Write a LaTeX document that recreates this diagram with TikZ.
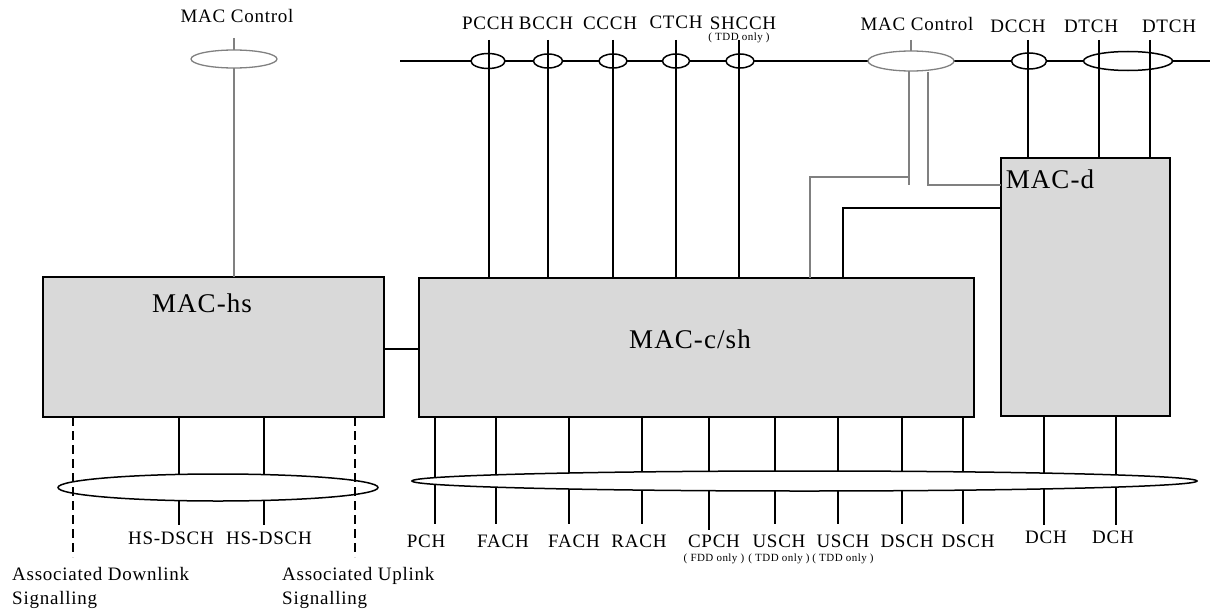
\documentclass[tikz,border=0pt]{standalone}
\usepackage{fontspec}
\setmainfont[LetterSpace=4]{Liberation Serif}
\usetikzlibrary{shapes.geometric}
\definecolor{boxgray}{RGB}{217,217,217}
\definecolor{ctlgray}{RGB}{128,128,128}
\tikzset{
 blk/.style={line width=1.5pt},
 gry/.style={draw=ctlgray, line width=1.3pt},
 dsh/.style={line width=1.5pt, dash pattern=on 9pt off 5pt},
 box/.style={draw, fill=boxgray, line width=1.6pt, inner sep=0pt, outer sep=0pt},
 ell/.style={ellipse, draw, fill=white, line width=1.5pt, inner sep=0pt, outer sep=0pt},
 gell/.style={ell, draw=ctlgray, line width=1.3pt},
 lab/.style={inner sep=0pt, font=\fontsize{19}{22}\selectfont},
 sml/.style={inner sep=0pt, font=\fontsize{11}{13}\selectfont},
 big/.style={inner sep=0pt, font=\fontsize{27}{30}\selectfont, anchor=base},
}
\begin{document}
\begin{tikzpicture}[x=1pt,y=-1pt]
\useasboundingbox (0,0) rectangle (1214,610);

% ---------------- top channel bus ----------------
\coordinate (tl) at (400,61);
\coordinate (tr) at (1210,61);
\draw[blk] (tl) -- (tr);

% boxes
\node[box, minimum width=341pt, minimum height=140pt] (hs) at (213.5,347) {};
\node[box, minimum width=555pt, minimum height=139pt] (csh) at (696.5,347.5) {};
\node[box, minimum width=169pt, minimum height=258pt] (macd) at (1085.5,287) {};

\node[big] (hsT) at (202,312) {MAC-hs};
\node[big] (cshT) at (690,348) {MAC-c/sh};
\node[big] (macdT) at (1050,188) {MAC-d};

% top ellipses
\node[ell, minimum width=34pt, minimum height=15pt] (ePCCH) at (488,61) {};
\node[ell, minimum width=29pt, minimum height=14pt] (eBCCH) at (548,61) {};
\node[ell, minimum width=28pt, minimum height=14pt] (eCCCH) at (613,61) {};
\node[ell, minimum width=27pt, minimum height=14pt] (eCTCH) at (676,61) {};
\node[ell, minimum width=28pt, minimum height=14pt] (eSHCCH) at (740,61) {};
\node[ell, minimum width=35pt, minimum height=16pt] (eDCCH) at (1029,61) {};
\node[ell, minimum width=89pt, minimum height=19pt] (eDTCH) at (1128,61) {};
\node[gell, minimum width=86pt, minimum height=20pt] (eMC) at (911,61) {};
\node[gell, minimum width=86pt, minimum height=18pt] (eML) at (234,59) {};

% top vertical channel lines
\coordinate (tPCCH) at (489,40);
\coordinate (tBCCH) at (548,40);
\coordinate (tCCCH) at (613,40);
\coordinate (tCTCH) at (676,40);
\coordinate (tSHCCH) at (739,40);
\coordinate (tDCCH) at (1028,40);
\coordinate (tDTCHa) at (1099,40);
\coordinate (tDTCHb) at (1150,40);
\foreach \c in {tPCCH,tBCCH,tCCCH,tCTCH,tSHCCH}
  \draw[blk] (\c) -- (\c |- csh.north);
\foreach \c in {tDCCH,tDTCHa,tDTCHb}
  \draw[blk] (\c) -- (\c |- macd.north);

% MAC control (right)
\coordinate (tMC) at (911,40);
\draw[gry] (tMC) -- (eMC.north);
\coordinate (g1) at (909,185);
\coordinate (g2) at (810,177);
\coordinate (g3) at (928,185);
\draw[gry] (eMC.south -| g1) -- (g1);
\draw[gry] (g2 -| g1) -- (g2) -- (g2 |- csh.north);
\draw[gry] ([yshift=-1pt]eMC.south -| g3) -- (g3) -- (g3 -| macd.west);
\coordinate (b1) at (843,208);
\draw[blk] (b1 -| macd.west) -- (b1) -- (b1 |- csh.north);

% MAC control (left)
\coordinate (tML) at (234,38);
\draw[gry] (tML) -- (eML.north);
\draw[gry] (eML.south) -- (eML.south |- hs.north);

% hs -- c/sh link
\coordinate (c1) at (400,349);
\draw[blk] (c1 -| hs.east) -- (c1 -| csh.west);

% ---------------- lower left ----------------
\coordinate (hA) at (179,525);
\coordinate (hB) at (264,525);
\draw[blk] (hA |- hs.south) -- (hA);
\draw[blk] (hB |- hs.south) -- (hB);
\node[ell, minimum width=320pt, minimum height=27pt] (eHS) at (218,487.5) {};
\coordinate (dA) at (73,557);
\coordinate (dB) at (355,557);
\draw[dsh] (dA |- hs.south) -- (dA);
\draw[dsh] (dB |- hs.south) -- (dB);

% ---------------- lower right ----------------
\foreach \x/\n in {435/l1,496/l2,569/l3,642/l4,775/l6,838/l7,902/l8,963/l9}{
  \coordinate (\n) at (\x,524);
  \draw[blk] (\n |- csh.south) -- (\n);
}
\coordinate (l5) at (709,530);
\draw[blk] (l5 |- csh.south) -- (l5);
\coordinate (m1) at (1044,525);
\coordinate (m2) at (1116,525);
\draw[blk] (m1 |- macd.south) -- (m1);
\draw[blk] (m2 |- macd.south) -- (m2);
\node[ell, minimum width=785pt, minimum height=20pt] (eBig) at (804.5,481) {};

% ---------------- labels ----------------
\node[lab, anchor=base] (lML) at (237,23) {MAC Control};
\node[lab, anchor=base] (lMC) at (917,31) {MAC Control};
\node[lab] (lPCCH) at (488,23) {PCCH};
\node[lab] (lBCCH) at (546,23) {BCCH};
\node[lab] (lCCCH) at (610,23) {CCCH};
\node[lab] (lCTCH) at (676,22) {CTCH};
\node[lab] (lSHCCH) at (743,23) {SHCCH};
\node[sml] (sSHCCH) at (739,38) {( TDD only )};
\node[lab] (lDCCH) at (1018,26) {DCCH};
\node[lab] (lDTCHa) at (1091,26) {DTCH};
\node[lab] (lDTCHb) at (1169,26) {DTCH};

\node[lab] (bPCH) at (426,541.5) {PCH};
\node[lab] (bFACHa) at (503,541.5) {FACH};
\node[lab] (bFACHb) at (574,541.5) {FACH};
\node[lab] (bRACH) at (639,541.5) {RACH};
\node[lab] (bCPCH) at (714,541.5) {CPCH};
\node[lab] (bUSCHa) at (779,541.5) {USCH};
\node[lab] (bUSCHb) at (843,541.5) {USCH};
\node[lab] (bDSCHa) at (907,541.5) {DSCH};
\node[lab] (bDSCHb) at (968,541.5) {DSCH};
\node[lab] (bDCHa) at (1046,537) {DCH};
\node[lab] (bDCHb) at (1113,537) {DCH};
\node[sml] (sCPCH) at (714,559) {( FDD only )};
\node[sml] (sUSCHa) at (779,559) {( TDD only )};
\node[sml] (sUSCHb) at (843,559) {( TDD only )};

\node[lab] (bHSa) at (171,538.5) {HS-DSCH};
\node[lab] (bHSb) at (269,538.5) {HS-DSCH};
\node[lab, anchor=base west] (aDL1) at (12,580) {Associated Downlink};
\node[lab, anchor=base west] (aDL2) at (12,604) {Signalling};
\node[lab, anchor=base west] (aUL1) at (282,580) {Associated Uplink};
\node[lab, anchor=base west] (aUL2) at (282,604) {Signalling};
\end{tikzpicture}
\end{document}
